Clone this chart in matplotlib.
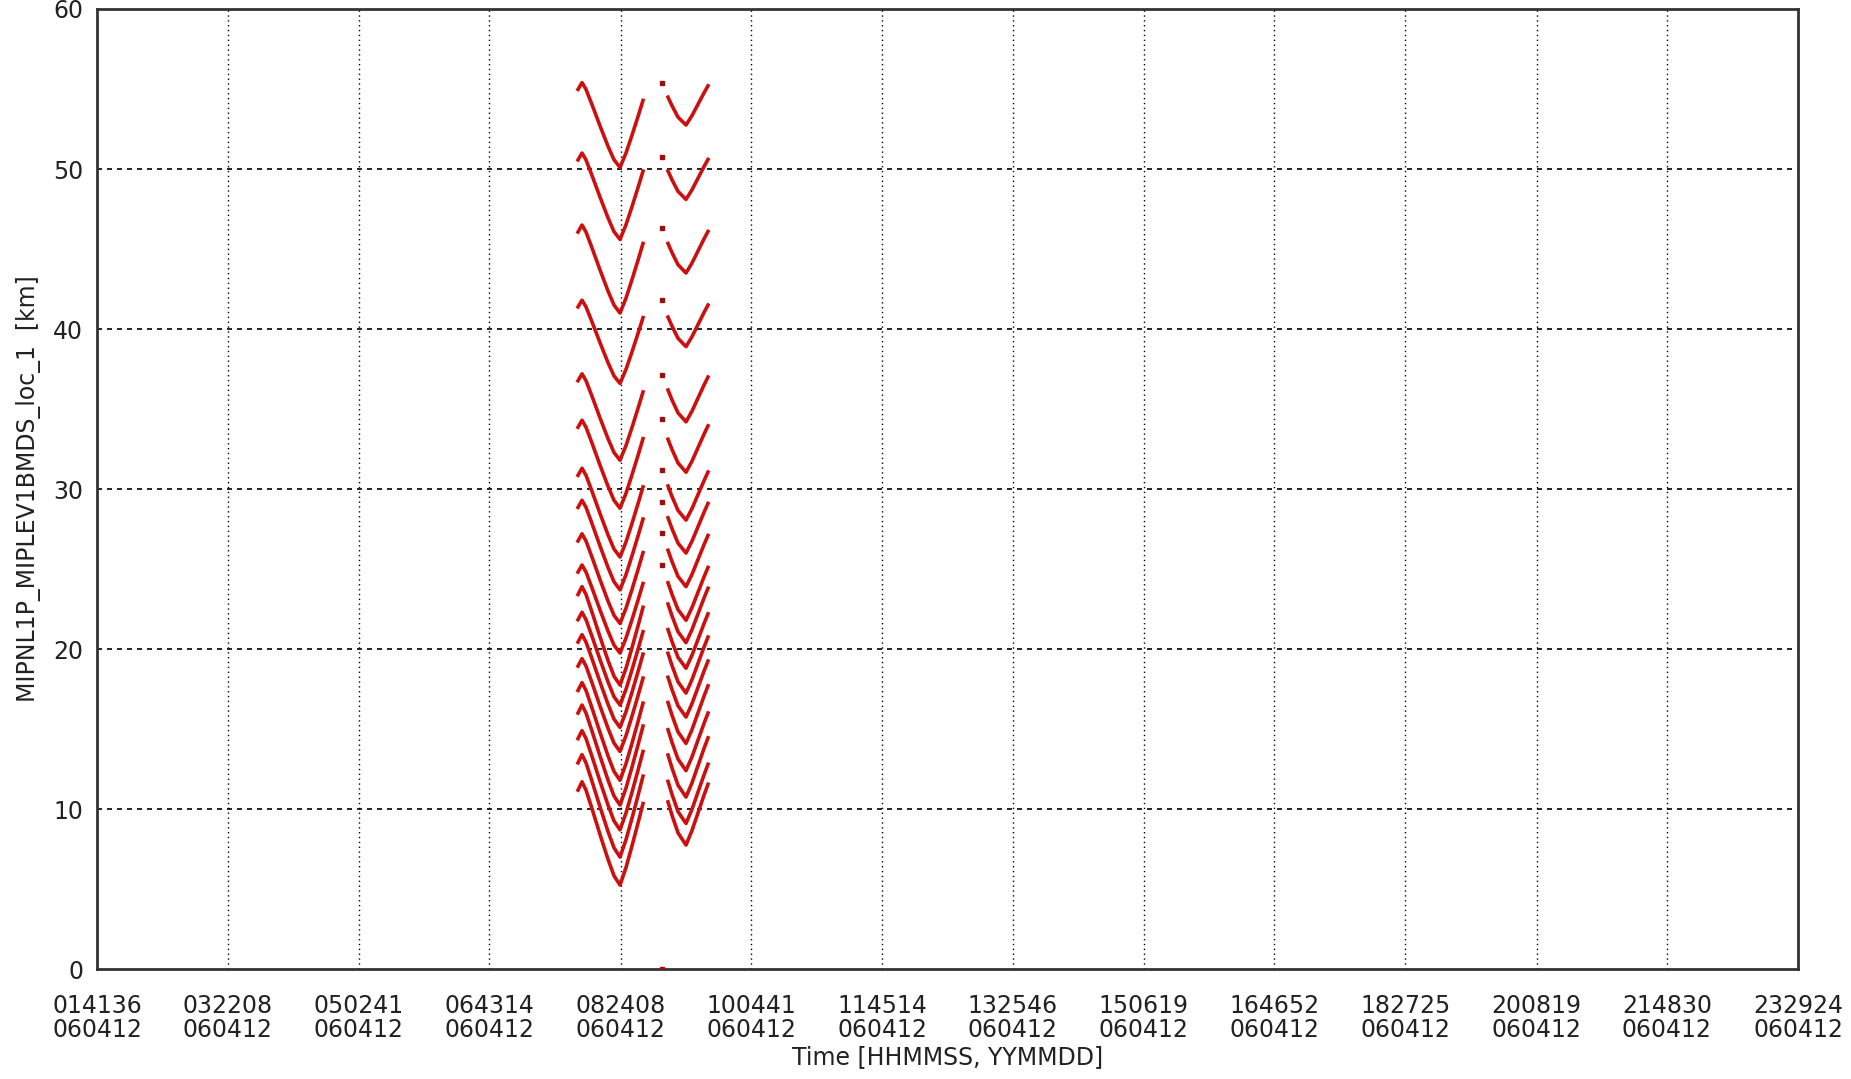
import matplotlib
matplotlib.use("Agg")
import matplotlib.pyplot as plt
import numpy as np

# tick labels on the time axis (HHMMSS, all on 060412)
tick_times = ["014136", "032208", "050241", "064314", "082408", "100441", "114514",
              "132546", "150619", "164652", "182725", "200819", "214830", "232924"]
tick_date = "060412"

# first block of sweeps (seconds of day) and shape of one sweep, 0 = bottom, 1 = top
left_t = [28285, 28469, 28654, 28930, 29299, 29668, 29945, 30222, 30499, 30776, 31052, 31283]
left_shape = [0.92, 1.0, 0.92, 0.74, 0.49, 0.25, 0.09, 0.0, 0.17, 0.38, 0.60, 0.79]
left_top = [55.4, 51.0, 46.5, 41.8, 37.2, 34.3, 31.3, 29.3, 27.2, 25.25,
            23.9, 22.3, 20.9, 19.4, 17.9, 16.5, 14.9, 13.4, 11.7]
left_min = [50.1, 45.6, 41.0, 36.6, 31.8, 28.8, 25.75, 23.7, 21.6, 19.75,
            17.75, 16.5, 15.1, 13.6, 11.8, 10.25, 8.7, 7.0, 5.25]

# second block
right_t = [32436, 32621, 32898, 33266, 33543, 33820, 34097, 34281]
right_shape = [0.71, 0.49, 0.20, 0.0, 0.24, 0.53, 0.82, 1.0]
right_min = [52.75, 48.1, 43.5, 38.9, 34.2, 31.05, 28.06, 26.0, 23.9, 21.8,
             20.4, 18.8, 17.25, 15.75, 14.1, 12.4, 10.75, 9.1, 7.75]
right_amp = [2.45, 2.5, 2.6, 2.6, 2.8, 2.9, 3.0, 3.1, 3.2, 3.3,
             3.4, 3.4, 3.5, 3.5, 3.6, 3.6, 3.7, 3.7, 3.8]

# isolated points just before the second block
dot_t = 32159
dot_alt = [55.4, 50.75, 46.3, 41.8, 37.1, 34.4, 31.2, 29.2, 27.25, 25.25, 0.0]


def hms(s):
    return int(s[0:2]) * 3600 + int(s[2:4]) * 60 + int(s[4:6])


tick_pos = [hms(s) for s in tick_times]
red = "#cc1010"

fig = plt.figure(figsize=(18.51, 10.79), dpi=100)
ax = fig.add_axes([0.0524, 0.1019, 0.9714 - 0.0524, 0.99166 - 0.1019])

for top, low in zip(left_top, left_min):
    y = low + np.array(left_shape) * (top - low)
    ax.plot(left_t, y, color=red, lw=2.6, solid_joinstyle="round", zorder=3)

for low, amp in zip(right_min, right_amp):
    y = low + np.array(right_shape) * amp
    ax.plot(right_t, y, color=red, lw=2.6, solid_joinstyle="round", zorder=3)

ax.plot([dot_t] * len(dot_alt), dot_alt, ls="none", marker="s", ms=2.2,
        color="#991010", zorder=3)

ax.set_xlim(tick_pos[0], tick_pos[-1])
ax.set_ylim(0, 60)
ax.set_xticks(tick_pos)
ax.set_xticklabels([t + "\n" + tick_date for t in tick_times], linespacing=1.0)
ax.set_yticks(range(0, 61, 10))
ax.tick_params(length=0, labelsize=17, colors="#222222")
ax.tick_params(axis="x", pad=18)
ax.tick_params(axis="y", pad=10)

for p in tick_pos[1:-1]:
    ax.axvline(p, color="black", lw=1.0, ls=(0, (1, 2.5)), zorder=1)
for v in range(10, 60, 10):
    ax.axhline(v, color="black", lw=1.2, ls=(0, (3, 3)), zorder=1)

for sp in ax.spines.values():
    sp.set_linewidth(2)
    sp.set_color("#333333")

ax.set_xlabel("Time [HHMMSS, YYMMDD]", fontsize=17, color="#222222", labelpad=2)
ax.set_ylabel("MIPNL1P_MIPLEV1BMDS_loc_1  [km]", fontsize=17, color="#222222")
ax.yaxis.set_label_coords(-0.033, 0.5)

fig.savefig("out.png", dpi=100)
